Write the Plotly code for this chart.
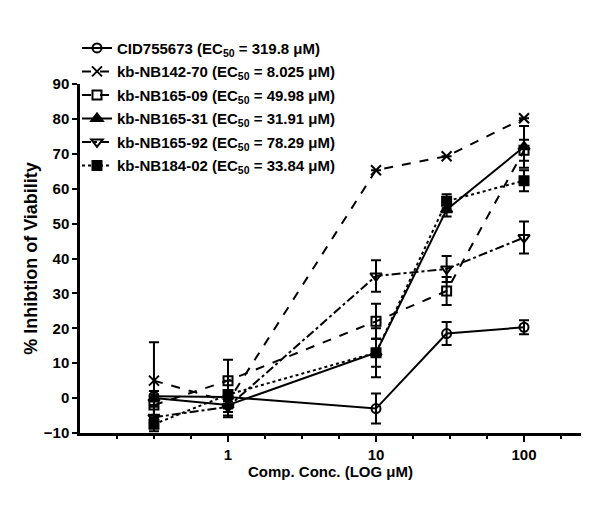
import plotly.graph_objects as go

# concentrations (uM)
conc = [0.316, 1, 10, 30, 100]

cid755673 = [0.5, 0.3, -3.0, 18.5, 20.3]
cid755673_err = [1.5, 2.0, 4.3, 3.3, 2.0]

nb142_70 = [5.0, -1.0, 65.3, 69.3, 80.2]
nb142_70_err = [11.0, 3.0, 0.0, 0.0, 0.0]

nb165_09 = [-2.0, 5.0, 22.0, 30.7, 71.0]
nb165_09_err = [3.0, 6.0, 5.0, 4.0, 3.0]

nb165_31 = [0.0, -2.0, 13.0, 54.0, 72.0]
nb165_31_err = [2.0, 3.0, 4.0, 2.0, 6.0]

nb165_92 = [-5.5, -2.5, 35.0, 37.0, 46.0]
nb165_92_err = [3.0, 3.0, 4.5, 3.7, 4.6]

nb184_02 = [-7.5, 1.0, 13.0, 56.4, 62.3]
nb184_02_err = [2.0, 4.0, 7.0, 2.0, 3.0]

names = [
    "CID755673 (EC<sub>50</sub> = 319.8 \u03bcM)",
    "kb-NB142-70 (EC<sub>50</sub> = 8.025 \u03bcM)",
    "kb-NB165-09 (EC<sub>50</sub> = 49.98 \u03bcM)",
    "kb-NB165-31 (EC<sub>50</sub> = 31.91 \u03bcM)",
    "kb-NB165-92 (EC<sub>50</sub> = 78.29 \u03bcM)",
    "kb-NB184-02 (EC<sub>50</sub> = 33.84 \u03bcM)",
]

series = [
    (cid755673, cid755673_err, "circle-open", "solid", 9),
    (nb142_70, nb142_70_err, "x-thin-open", "dash", 10),
    (nb165_09, nb165_09_err, "square-open", "dash", 9),
    (nb165_31, nb165_31_err, "triangle-up", "solid", 10),
    (nb165_92, nb165_92_err, "triangle-down-open", "dashdot", 10),
    (nb184_02, nb184_02_err, "square", "dot", 9),
]

fig = go.Figure()
for i, (vals, err, sym, dash, sz) in enumerate(series):
    fig.add_trace(go.Scatter(
        x=conc, y=vals, name=names[i], legendgroup=str(i),
        mode="lines+markers",
        line=dict(color="black", width=2, dash=dash),
        marker=dict(symbol=sym, size=sz, color="black",
                    line=dict(color="black", width=2)),
        error_y=dict(type="data", array=err, visible=True,
                     color="black", thickness=2, width=5),
    ))

minor_vals = [10 ** (k / 4) for k in range(-3, 10)]

fig.update_layout(
    width=600, height=514,
    paper_bgcolor="white", plot_bgcolor="white",
    margin=dict(l=72, r=27, t=76, b=89),
    font=dict(family="Liberation Sans, Arial", size=15, color="black", weight="bold"),
    legend=dict(x=-0.006, y=1.15, xanchor="left", yanchor="top",
                bgcolor="rgba(0,0,0,0)", font=dict(size=15, weight="bold"),
                tracegroupgap=1, traceorder="grouped"),
    xaxis=dict(
        type="log", range=[-1, 2.385],
        tickvals=[1, 10, 100], ticktext=["1", "10", "100"],
        ticks="outside", ticklen=6, tickwidth=2, tickcolor="black",
        minor=dict(tickmode="array", tickvals=minor_vals, ticks="outside",
                   ticklen=3, tickwidth=2, tickcolor="black"),
        showline=True, linecolor="black", linewidth=2.5,
        showgrid=False, zeroline=False,
        title=dict(text="Comp. Conc. (LOG \u03bcM)", standoff=4,
                   font=dict(size=15)),
    ),
    yaxis=dict(
        range=[-10, 90], dtick=10,
        ticks="outside", ticklen=5, tickwidth=2, tickcolor="black",
        showline=True, linecolor="black", linewidth=2.5,
        showgrid=False, zeroline=False,
        title=dict(text="% Inhibtion of Viability", standoff=2,
                   font=dict(size=18)),
    ),
)

fig.write_html("out.html")
